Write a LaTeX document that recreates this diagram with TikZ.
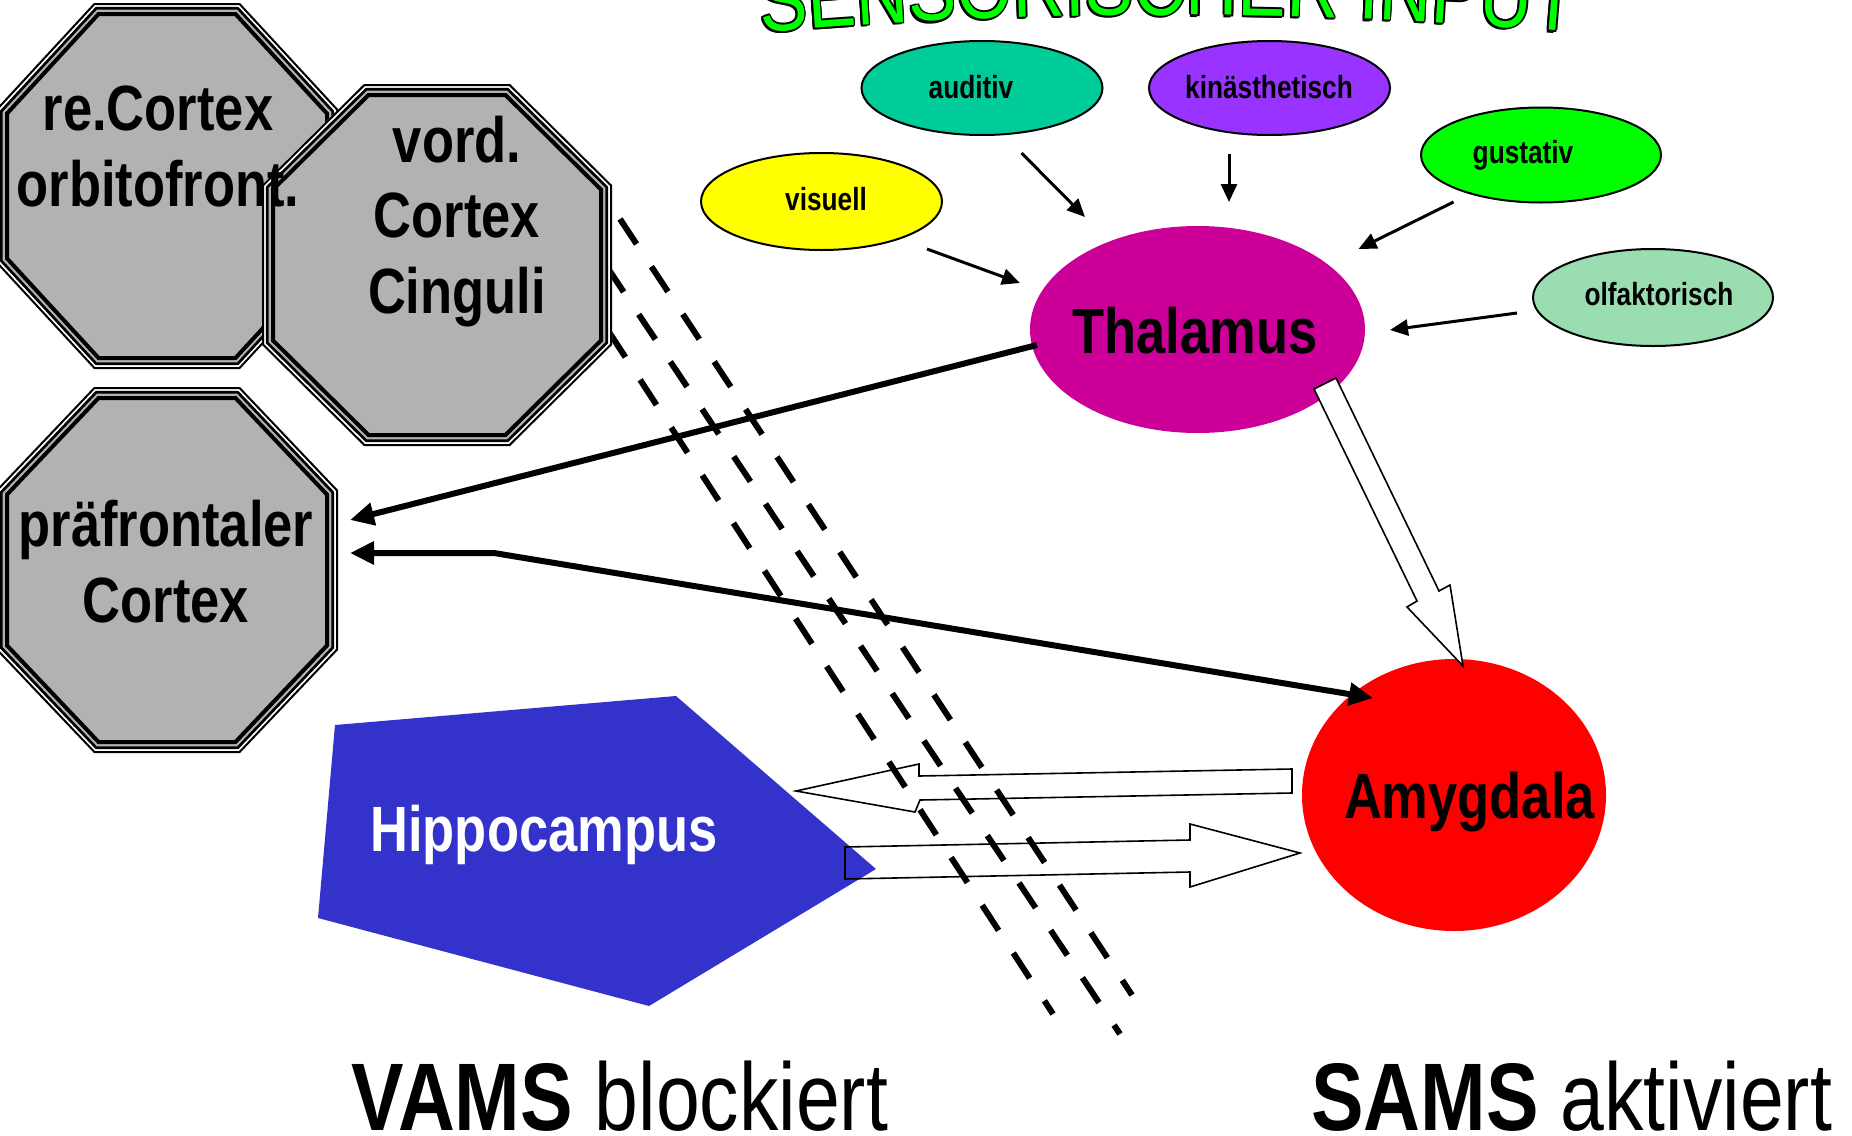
\documentclass[tikz,border=0pt]{standalone}
\usepackage{fontspec}
\setmainfont{Liberation Sans}[FakeStretch=0.82]
\usetikzlibrary{shapes.geometric,arrows.meta,decorations.text}
\definecolor{audc}{HTML}{00CC99}
\definecolor{kinc}{HTML}{9933FF}
\definecolor{gusc}{HTML}{00FF00}
\definecolor{visc}{HTML}{FFFF00}
\definecolor{olfc}{HTML}{99DDB0}
\definecolor{thalc}{HTML}{CC0099}
\definecolor{amyc}{HTML}{FF0000}
\definecolor{hipc}{HTML}{3333CC}
\definecolor{octc}{HTML}{B2B2B2}
\definecolor{titc}{HTML}{00FF00}
% cx cy hw hh th sh inset
\newcommand{\myoctpath}[7]{({#1-(#5)+0.414*(#7)},{#2-(#4)+(#7)}) -- ({#1+(#5)-0.414*(#7)},{#2-(#4)+(#7)}) -- ({#1+(#3)-(#7)},{#2-(#6)+0.414*(#7)}) -- ({#1+(#3)-(#7)},{#2+(#6)-0.414*(#7)}) -- ({#1+(#5)-0.414*(#7)},{#2+(#4)-(#7)}) -- ({#1-(#5)+0.414*(#7)},{#2+(#4)-(#7)}) -- ({#1-(#3)+(#7)},{#2+(#6)-0.414*(#7)}) -- ({#1-(#3)+(#7)},{#2-(#6)+0.414*(#7)}) -- cycle}
\newcommand{\myoct}[6]{%
  \fill[white] \myoctpath{#1}{#2}{#3}{#4}{#5}{#6}{0};
  \fill[octc] \myoctpath{#1}{#2}{#3}{#4}{#5}{#6}{5};
  \draw[line width=1pt] \myoctpath{#1}{#2}{#3}{#4}{#5}{#6}{1};
  \draw[line width=1.35pt] \myoctpath{#1}{#2}{#3}{#4}{#5}{#6}{5.3};
  \draw[line width=2pt] \myoctpath{#1}{#2}{#3}{#4}{#5}{#6}{11};
}
\newcommand{\mytitlepath}{(740,34.3) .. controls (1025,8.5) and (1310,8.5) .. (1595,34.4)}
\tikzset{
  sense/.style={ellipse, draw=black, line width=1pt, inner sep=0pt},
  blob/.style={ellipse, inner sep=0pt},
  smalltxt/.style={inner sep=0pt, anchor=base, font=\fontsize{16}{19}\selectfont\bfseries},
  bigtxt/.style={inner sep=0pt, anchor=base, font=\fontsize{32}{37.75}\selectfont\bfseries},
  octtxt/.style={inner sep=0pt, anchor=base, align=center, font=\fontsize{32}{37.75}\selectfont\bfseries},
  bottxt/.style={inner sep=0pt, anchor=base west, font=\fontsize{48}{58}\selectfont},
  thinarr/.style={line width=1.5pt, -{Triangle[length=9pt,width=8pt]}},
  thickarr/.style={line width=3pt, -{Triangle[length=12pt,width=11pt]}},
  blockarr/.style={line width=0.8pt, line join=miter},
  barrier/.style={line width=3pt, dash pattern=on 15pt off 13.5pt},
  titledec/.style={decorate, decoration={text along path, text align=center, text color=#1,
      text={|\fontsize{44}{50}\selectfont|SENSORISCHER INPUT}}}
}
\begin{document}
\begin{tikzpicture}[x=0.5pt,y=-0.5pt]
\useasboundingbox (0,0) rectangle (1852,1135);
\fill[white] (0,0) rectangle (1852,1135);

% sensory ellipses
\node[sense, fill=audc, minimum width=120.5pt, minimum height=47pt] (aud) at (982,88) {};
\node[sense, fill=kinc, minimum width=120.5pt, minimum height=47pt] (kin) at (1269.5,88) {};
\node[sense, fill=gusc, minimum width=120pt, minimum height=47.5pt] (gus) at (1541,155) {};
\node[sense, fill=visc, minimum width=120.5pt, minimum height=48.5pt] (vis) at (821.5,201.5) {};
\node[sense, fill=olfc, minimum width=120pt, minimum height=48.5pt] (olf) at (1653,297.5) {};

% Thalamus, Amygdala, Hippocampus
\node[blob, fill=thalc, minimum width=167.5pt, minimum height=103.5pt] (thal) at (1197.5,329.5) {};
\node[blob, fill=amyc, minimum width=152pt, minimum height=136pt] (amy) at (1454,795) {};
\fill[hipc] (335,725) -- (676,696) -- (876,869) -- (649,1006) -- (318,918) -- cycle;

% thin input arrows
\coordinate (v1) at (927,249);   \coordinate (v2) at (1020,283);
\coordinate (a1) at (1021.5,153); \coordinate (a2) at (1085,217);
\coordinate (k1) at (1229,154);  \coordinate (k2) at (1229,202);
\coordinate (g1) at (1453.5,202); \coordinate (g2) at (1358.5,249);
\coordinate (o1) at (1517,313);  \coordinate (o2) at (1390,330);
\draw[thinarr] (v1) -- (v2);
\draw[thinarr] (a1) -- (a2);
\draw[thinarr] (k1) -- (k2);
\draw[thinarr] (g1) -- (g2);
\draw[thinarr] (o1) -- (o2);

% thick connectors
\coordinate (t1) at (1037,345);  \coordinate (p1) at (350,520);
\coordinate (p2) at (350,553);   \coordinate (bend) at (494,553);
\coordinate (am1) at (1373,698);
\draw[thickarr] (t1) -- (p1);
\draw[line width=3pt, {Triangle[length=12pt,width=11pt]}-{Triangle[length=12pt,width=11pt]}] (p2) -- (bend) -- (am1);

% block arrows
\filldraw[blockarr, fill=white] (1314,389) -- (1336,378) -- (1439,591) -- (1450,585) -- (1463,666) -- (1407,607) -- (1417,601) -- cycle;
\draw[blockarr] (1292,769) -- (919,776) -- (919,764) -- (796,791) -- (915,812) -- (920,800) -- (1292,793) -- cycle;
\draw[blockarr] (845,847) -- (1190,840) -- (1190,824) -- (1300,853) -- (1190,887) -- (1190,872) -- (845,879) -- cycle;

% barrier
\draw[barrier] (620,219) -- (1132,995);
\draw[barrier] (607,267) -- (1120,1034);
\draw[barrier] (609,332) -- (1053,1014);

% octagons
\myoct{167}{186}{171}{183}{73}{77}
\myoct{167}{570}{171}{183}{73}{80}
\myoct{437}{265}{175}{181}{73}{80}

% texts (base anchor = baseline of last line)
\node[octtxt] (ocf) at (158,206) {re.Cortex\\orbitofront.};
\node[octtxt] (cing) at (457,313) {vord.\\Cortex\\Cinguli};
\node[octtxt] (pfc) at (166,622) {präfrontaler\\Cortex};

\node[smalltxt] (audt) at (971,98) {auditiv};
\node[smalltxt] (kint) at (1269,98) {kinästhetisch};
\node[smalltxt] (gust) at (1523,163) {gustativ};
\node[smalltxt] (vist) at (826,210) {visuell};
\node[smalltxt] (olft) at (1659,305) {olfaktorisch};

\node[bigtxt] (thalt) at (1195,353) {Thalamus};
\node[bigtxt] (amyt) at (1469.5,818.5) {Amygdala};
\node[bigtxt, anchor=base west, text=white] (hipt) at (370,851) {Hippocampus};

% arched outlined title
\foreach \dx/\dy in {1.8/0, -1.8/0, 0/1.8, 0/-1.8, 1.3/1.3, -1.3/1.3, 1.3/-1.3, -1.3/-1.3, -1.5/2.2}{
  \path[titledec=black, shift={(\dx,\dy)}] \mytitlepath;
}
\path[titledec=titc] \mytitlepath;

\node[bottxt] (vams) at (351,1130) {\textbf{VAMS} blockiert};
\node[bottxt] (sams) at (1311,1130) {\textbf{SAMS} aktiviert};
\end{tikzpicture}
\end{document}
